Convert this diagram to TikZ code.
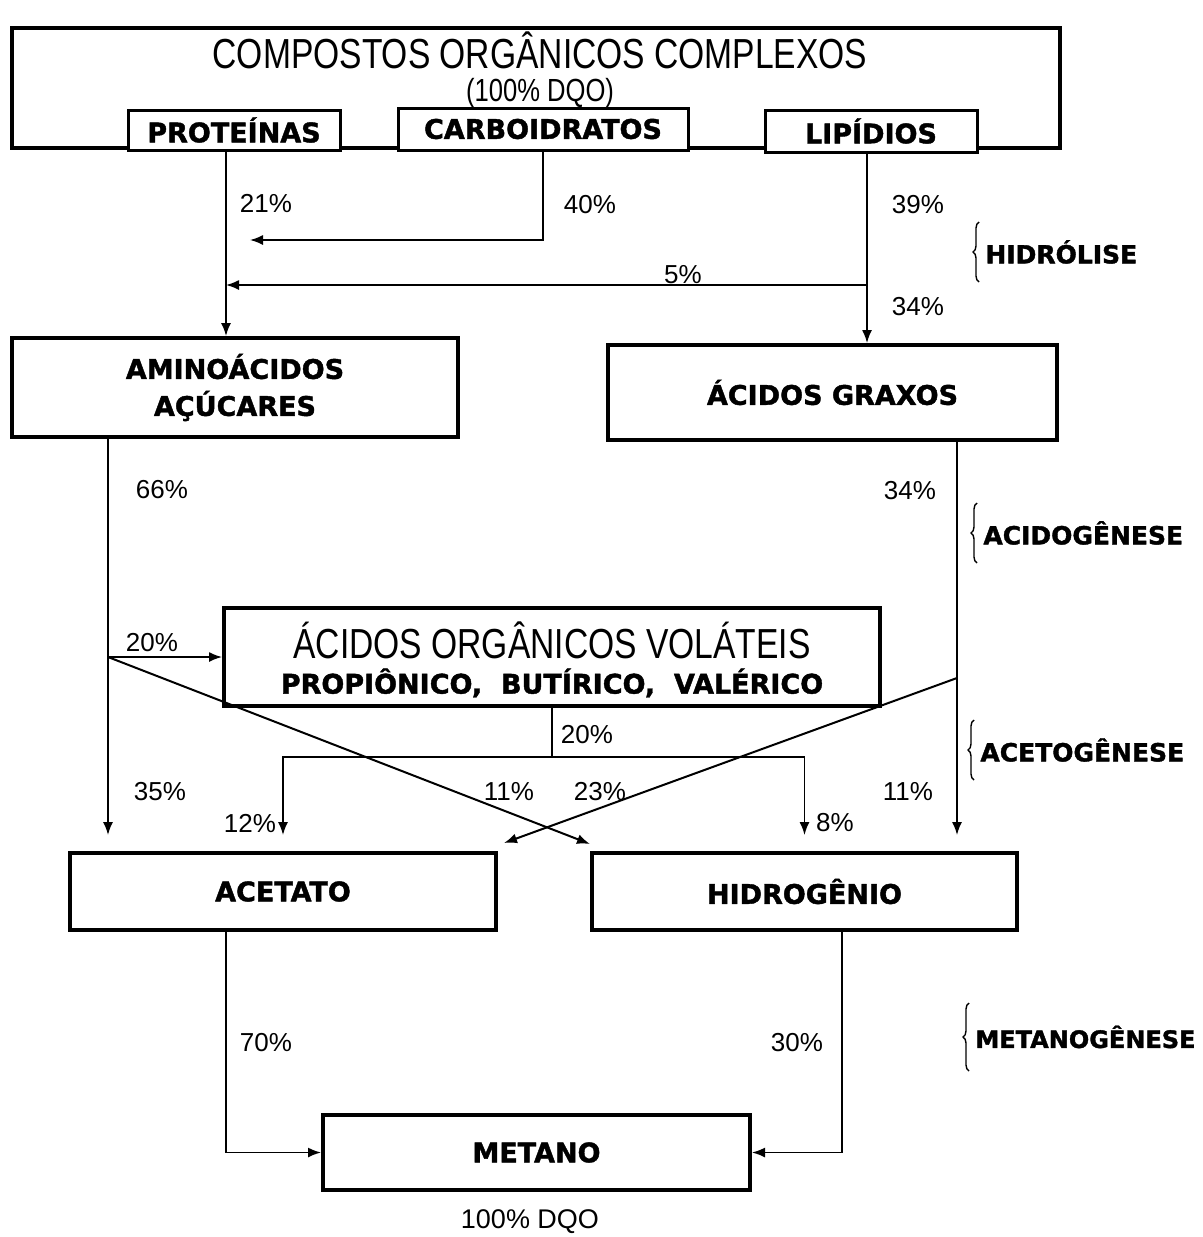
\documentclass[tikz,border=0pt]{standalone}
\usepackage{fontspec}
\setmainfont{Liberation Sans}
\newfontfamily\thinfont{Liberation Sans}[FakeStretch=0.8]
\newfontfamily\heavyfont{DejaVu Sans Bold}[FakeBold=1.5]
\usetikzlibrary{arrows.meta,decorations.pathreplacing,calc}

\tikzset{
  box/.style={draw, line width=2pt, fill=white, inner sep=0pt},
  sbox/.style={box, line width=1.5pt},
  flow/.style={line width=0.8pt, -{Latex[length=6.5pt,width=5pt]}},
  wire/.style={line width=0.8pt},
  pct/.style={font=\fontsize{13}{15}\selectfont, inner sep=0pt},
  heavy/.style={font={\heavyfont\fontsize{13.5}{18.5}\selectfont}, align=center},
  thin/.style={font={\thinfont\fontsize{21}{24}\selectfont}, inner sep=0pt},
  phase/.style={heavy, font={\heavyfont\fontsize{12.5}{14}\selectfont}, anchor=west, inner sep=0pt},
  fase/.style={decorate, decoration={brace, amplitude=3pt}, line width=0.7pt},
}

\begin{document}
\begin{tikzpicture}[x=0.5pt, y=-0.5pt]
\useasboundingbox (0,0) rectangle (1203,1237);

% compostos complexos
\node[box, minimum width=524pt, minimum height=60pt] (compl) at (536,88) {};
\node[thin] (titulo) at (540,50) {COMPOSTOS ORGÂNICOS COMPLEXOS};
\node[thin, font={\thinfont\fontsize{16}{18}\selectfont}] (dqo) at (540,93) {(100\% DQO)};
\node[sbox, heavy, minimum width=106pt, minimum height=20pt] (prot) at (234,130) {PROTEÍNAS};
\node[sbox, heavy, minimum width=145pt, minimum height=21pt] (carb) at (543,129) {CARBOIDRATOS};
\node[sbox, heavy, minimum width=106pt, minimum height=21pt] (lip) at (871,131) {LIPÍDIOS};

% produtos intermediarios
\node[box, heavy, minimum width=223pt, minimum height=49.5pt] (amino) at (235,387.5) {AMINOÁCIDOS\\AÇÚCARES};
\node[box, heavy, minimum width=224.5pt, minimum height=47.5pt] (graxos) at (832.5,392.5) {ÁCIDOS GRAXOS};
\node[box, minimum width=328pt, minimum height=49pt] (aov) at (552,657) {};
\node[thin] (aovtit) at (552,640) {ÁCIDOS ORGÂNICOS VOLÁTEIS};
\node[heavy] (aovsub) at (552,683) {PROPIÔNICO,\ \ BUTÍRICO,\ \ VALÉRICO};
\node[box, heavy, minimum width=213pt, minimum height=38.5pt] (aceta) at (283,891.5) {ACETATO};
\node[box, heavy, minimum width=212.5pt, minimum height=38.5pt] (hidrog) at (804.5,891.5) {HIDROGÊNIO};
\node[box, heavy, minimum width=213.5pt, minimum height=37.5pt] (metano) at (536.5,1152.5) {METANO};
\node[pct, font=\fontsize{13.5}{15}\selectfont] (fim) at (530,1222) {100\% DQO};

% pontos de ramificacao
\coordinate (protout) at ([xshift=-4pt]prot.south);
\coordinate (lipout) at ([xshift=-2pt]lip.south);
\coordinate (c40) at (250,240);
\coordinate (l5) at (lipout |- 0,285);
\coordinate (amout) at (amino.south -| 108,0);
\coordinate (a20) at (amout |- aov.west);
\coordinate (a35) at (amout |- 0,835);
\coordinate (grout) at (graxos.south -| 957,0);
\coordinate (g23) at (grout |- 0,678);
\coordinate (g11) at (grout |- 0,835);
\coordinate (vsplit) at (aov.south |- 0,757);
\coordinate (v12) at (aceta.north |- 0,835);
\coordinate (v8) at (hidrog.north |- 0,835);
\coordinate (acout) at (aceta.south -| 226,0);
\coordinate (hiout) at (hidrog.south -| 842,0);

% hidrolise
\draw[flow] (protout) -- (protout |- amino.north);
\draw[flow] (carb.south) |- (c40);
\draw[flow] (lipout) -- (lipout |- graxos.north);
\draw[flow] (l5) -- (l5 -| protout);

% acidogenese / acetogenese
\draw[flow] (amout) -- (a35);
\draw[flow] (a20) -- (aov.west);
\draw[flow, line width=1pt] (a20) -- ([yshift=3.5pt]hidrog.north west);
\draw[flow] (grout) -- (g11);
\draw[flow, line width=1pt] (g23) -- ([shift={(3pt,4pt)}]aceta.north east);
\draw[wire] (aov.south) -- (vsplit);
\draw[flow] (vsplit) -| (v12);
\draw[flow] (vsplit) -| (v8);

% metanogenese
\draw[flow] (acout) |- (metano.west);
\draw[flow] (hiout) |- (metano.east);

% porcentagens
\node[pct] (p21) at (266,203) {21\%};
\node[pct] (p40) at (590,205) {40\%};
\node[pct] (p39) at (918,205) {39\%};
\node[pct] (p5) at (683,275) {5\%};
\node[pct] (p34a) at (918,307) {34\%};
\node[pct] (p66) at (162,490) {66\%};
\node[pct] (p34b) at (910,491) {34\%};
\node[pct] (p20a) at (152,643) {20\%};
\node[pct] (p20b) at (587,735) {20\%};
\node[pct] (p35) at (160,792) {35\%};
\node[pct] (p12) at (250,823) {12\%};
\node[pct] (p11a) at (509,792) {11\%};
\node[pct] (p23) at (600,792) {23\%};
\node[pct] (p8) at (835,823) {8\%};
\node[pct] (p11b) at (908,792) {11\%};
\node[pct] (p70) at (266,1043) {70\%};
\node[pct] (p30) at (797,1043) {30\%};

% fases
\node[phase] (hidr) at (985,252) {HIDRÓLISE};
\node[phase] (acid) at (983,533) {ACIDOGÊNESE};
\node[phase] (acet) at (980,750) {ACETOGÊNESE};
\node[phase, font={\heavyfont\fontsize{12}{14}\selectfont}] (meta) at (975,1037) {METANOGÊNESE};
\draw[fase] ([shift={(-3pt,-15pt)}]hidr.west) -- ++(0,30pt);
\draw[fase] ([shift={(-3pt,-15pt)}]acid.west) -- ++(0,30pt);
\draw[fase] ([shift={(-3pt,-15pt)}]acet.west) -- ++(0,30pt);
\draw[fase] ([shift={(-3pt,-17pt)}]meta.west) -- ++(0,34pt);
\end{tikzpicture}
\end{document}
